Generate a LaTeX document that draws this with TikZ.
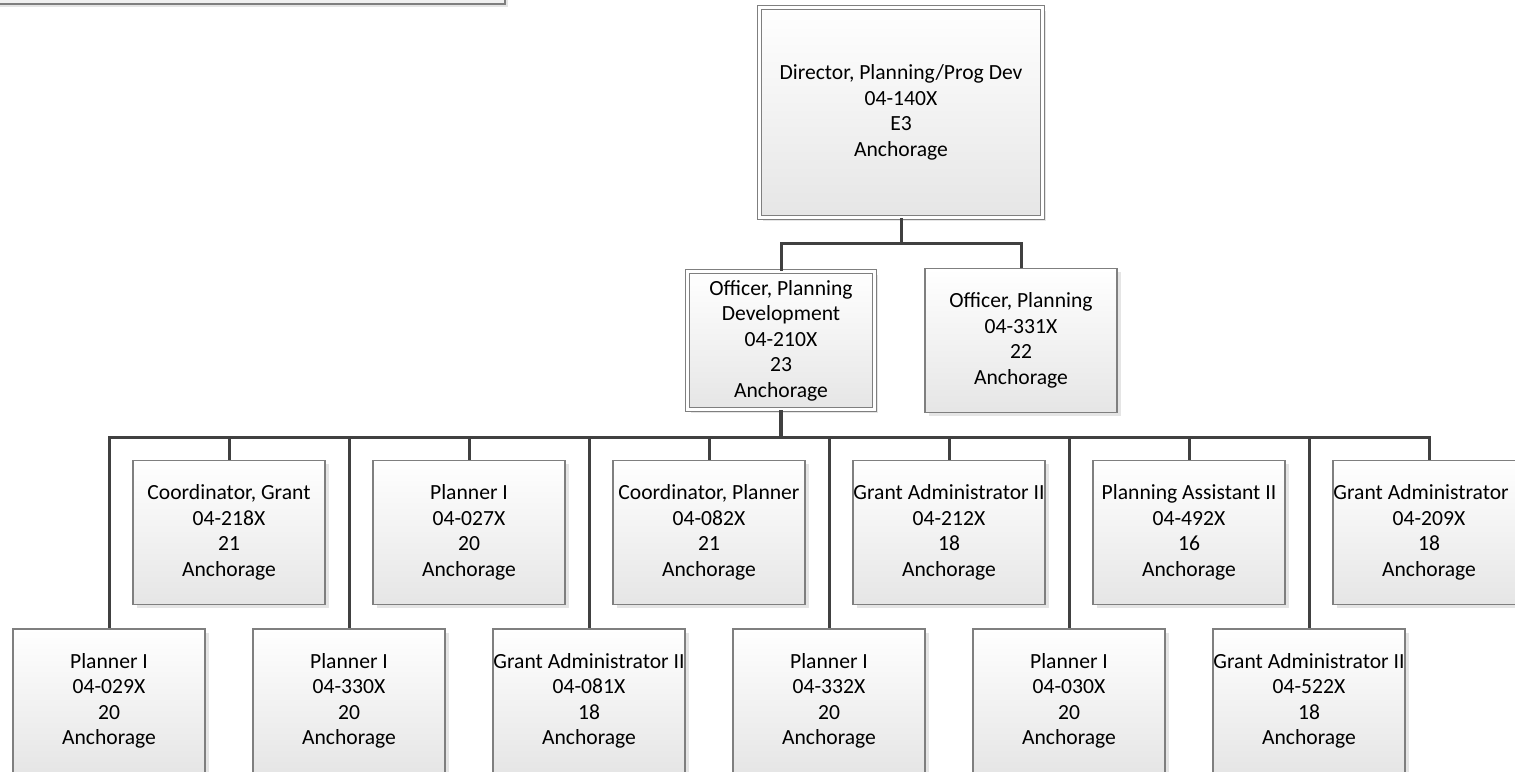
\documentclass[tikz,border=0pt]{standalone}
\usepackage{fontspec}
\setmainfont{Carlito}
\usetikzlibrary{shadows}

\definecolor{boxline}{HTML}{7F7F7F}
\definecolor{linkline}{HTML}{404040}

\begin{document}
\begin{tikzpicture}[x=1pt, y=-1pt,
        posbox/.style={draw=boxline, line width=1.5pt, top color=white, bottom color=black!10,
            general shadow={fill=black!10, shadow xshift=3.5pt, shadow yshift=-3.5pt},
            minimum width=192pt, minimum height=144pt, inner sep=0pt, align=center,
            font=\fontsize{21.6}{25.5}\selectfont},
        dblbox/.style={posbox, line width=1.2pt, double=white, double distance=2.6pt},
        link/.style={draw=linkline, line width=3pt}]
        \useasboundingbox (0,0) rectangle (1515,771);
        \clip (0,0) rectangle (1515,771);

        % top-left panel, mostly off the page
        \draw[draw=boxline, line width=1.5pt, fill=black!6,
            general shadow={fill=black!10, shadow xshift=3pt, shadow yshift=-3pt}]
            (-10,-30) rectangle (505,4);

        \node (dir) at (901, 112.5) [dblbox, minimum width=283pt, minimum height=210pt]
            {Director, Planning/Prog Dev\\04-140X\\E3\\Anchorage};

        \node (opd) at (781, 340.5) [dblbox, minimum width=187pt, minimum height=138pt]
            {Officer, Planning\\Development\\04-210X\\23\\Anchorage};
        \node (opl) at (1021, 340.5) [posbox]
            {Officer, Planning\\04-331X\\22\\Anchorage};

        % upper row of staff
        \node (cgr) at (229, 532.5) [posbox] {Coordinator, Grant\\04-218X\\21\\Anchorage};
        \node (pa) at (469, 532.5) [posbox] {Planner I\\04-027X\\20\\Anchorage};
        \node (cpl) at (709, 532.5) [posbox] {Coordinator, Planner\\04-082X\\21\\Anchorage};
        \node (gb) at (949, 532.5) [posbox] {Grant Administrator II\\04-212X\\18\\Anchorage};
        \node (pas) at (1189, 532.5) [posbox] {Planning Assistant II\\04-492X\\16\\Anchorage};
        \node (gd) at (1429, 532.5) [posbox] {Grant Administrator II\\04-209X\\18\\Anchorage};

        % lower row of staff
        \node (pb) at (109, 701) [posbox] {Planner I\\04-029X\\20\\Anchorage};
        \node (pc) at (349, 701) [posbox] {Planner I\\04-330X\\20\\Anchorage};
        \node (ga) at (589, 701) [posbox] {Grant Administrator II\\04-081X\\18\\Anchorage};
        \node (pd) at (829, 701) [posbox] {Planner I\\04-332X\\20\\Anchorage};
        \node (pe) at (1069, 701) [posbox] {Planner I\\04-030X\\20\\Anchorage};
        \node (gc) at (1309, 701) [posbox] {Grant Administrator II\\04-522X\\18\\Anchorage};

        \coordinate (j1) at (901, 243);
        \coordinate (j2) at (781, 437);

        \draw[link] (dir.south) -- (j1);
        \draw[link] (opd.north) |- (j1) -| (opl.north);
        \draw[link, line width=3.5pt] (opd.south) -- (j2);
        \foreach \n in {pb, cgr, pc, pa, ga, cpl, pd, gb, pe, pas, gc, gd}
            \draw[link] (j2) -| (\n.north);
\end{tikzpicture}
\end{document}
